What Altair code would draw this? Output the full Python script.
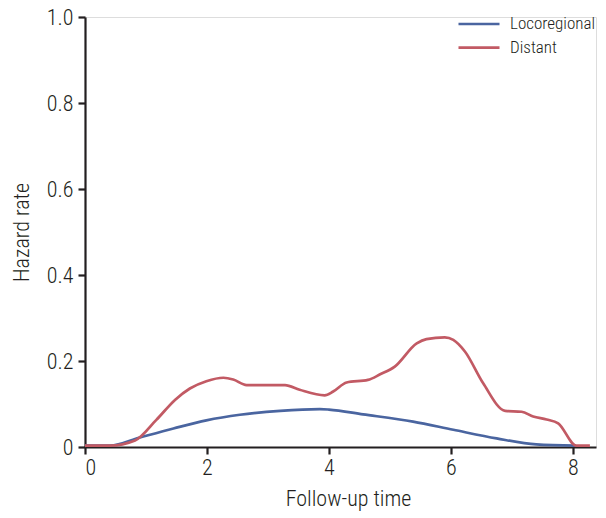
import altair as alt
import pandas as pd

# Follow-up time (x) and hazard rate (y)
red_t = [0.0, 0.41, 0.82, 1.17, 1.48, 1.72, 1.99, 2.27, 2.43, 2.65, 3.28, 3.52, 3.93, 4.07,
         4.29, 4.64, 4.84, 5.08, 5.44, 5.60, 5.90, 6.04, 6.23, 6.53, 6.89, 7.16, 7.35,
         7.57, 7.76, 8.06, 8.28]
red_v = [0.003, 0.003, 0.015, 0.063, 0.110, 0.136, 0.153, 0.161, 0.157, 0.144, 0.144, 0.133,
         0.120, 0.129, 0.150, 0.156, 0.169, 0.187, 0.241, 0.251, 0.255, 0.249, 0.222, 0.148,
         0.084, 0.082, 0.071, 0.064, 0.055, 0.003, 0.003]
blue_t = [0.0, 0.41, 0.90, 1.45, 1.99, 2.54, 3.20, 3.85, 4.00, 4.56, 5.38, 6.04, 6.75,
          7.40, 8.05]
blue_v = [0.003, 0.003, 0.022, 0.043, 0.062, 0.075, 0.084, 0.088, 0.087, 0.076, 0.059,
          0.040, 0.020, 0.006, 0.003]

series = ["Locoregional", "Distant"]
colors = ["#4a65a0", "#c25a64"]
x_ticks = [0, 2, 4, 6, 8]
y_ticks = [0, 0.2, 0.4, 0.6, 0.8, 1.0]

df = pd.concat([
    pd.DataFrame({"t": blue_t, "v": blue_v, "s": series[0], "o": 0}),
    pd.DataFrame({"t": red_t, "v": red_v, "s": series[1], "o": 1}),
])

FONT = "Roboto Condensed, DejaVu Sans Condensed, Roboto, sans-serif"

chart = alt.Chart(df).mark_line(interpolate="monotone", strokeWidth=2.7).encode(
    x=alt.X("t:Q", scale=alt.Scale(domain=[0, 8.38], nice=False, zero=False),
            axis=alt.Axis(title="Follow-up time", values=x_ticks, format="d",
                          grid=False, domainColor="#231f20", tickColor="#231f20",
                          domainWidth=2.2, tickWidth=2.2, tickSize=7,
                          labelFontSize=22, titleFontSize=22, labelColor="#231f20",
                          titleColor="#231f20", labelFont=FONT, titleFont=FONT,
                          labelFontWeight=300, titleFontWeight=300,
                          labelPadding=3, titlePadding=10, titleX=263)),
    y=alt.Y("v:Q", scale=alt.Scale(domain=[0, 1], nice=False),
            axis=alt.Axis(title="Hazard rate", values=y_ticks,
                          labelExpr="datum.value == 0 ? '0' : format(datum.value, '.1f')",
                          grid=False, domainColor="#231f20", tickColor="#231f20",
                          domainWidth=2.2, tickWidth=2.2, tickSize=7,
                          labelFontSize=22, titleFontSize=22, labelColor="#231f20",
                          titleColor="#231f20", labelFont=FONT, titleFont=FONT,
                          labelFontWeight=300, titleFontWeight=300,
                          labelPadding=5, titlePadding=13)),
    color=alt.Color("s:N", scale=alt.Scale(domain=series, range=colors),
                    legend=alt.Legend(title=None, orient="none", legendX=384, legendY=-3,
                                      symbolType="M-2.5,0H2.5", symbolSize=269,
                                      symbolStrokeWidth=2.7, labelFontSize=17,
                                      labelFont=FONT, labelFontWeight=300,
                                      labelColor="#231f20",
                                      rowPadding=5.6, labelOffset=21)),
    order=alt.Order("o:Q"),
).properties(
    width=511, height=430,
    autosize=alt.AutoSizeParams(type="none"),
    padding={"left": 77, "top": 9, "right": 2, "bottom": 70},
).configure_view(stroke=None).configure(background="white")

chart.save("out.html", embed_options={"renderer": "svg", "actions": False})
